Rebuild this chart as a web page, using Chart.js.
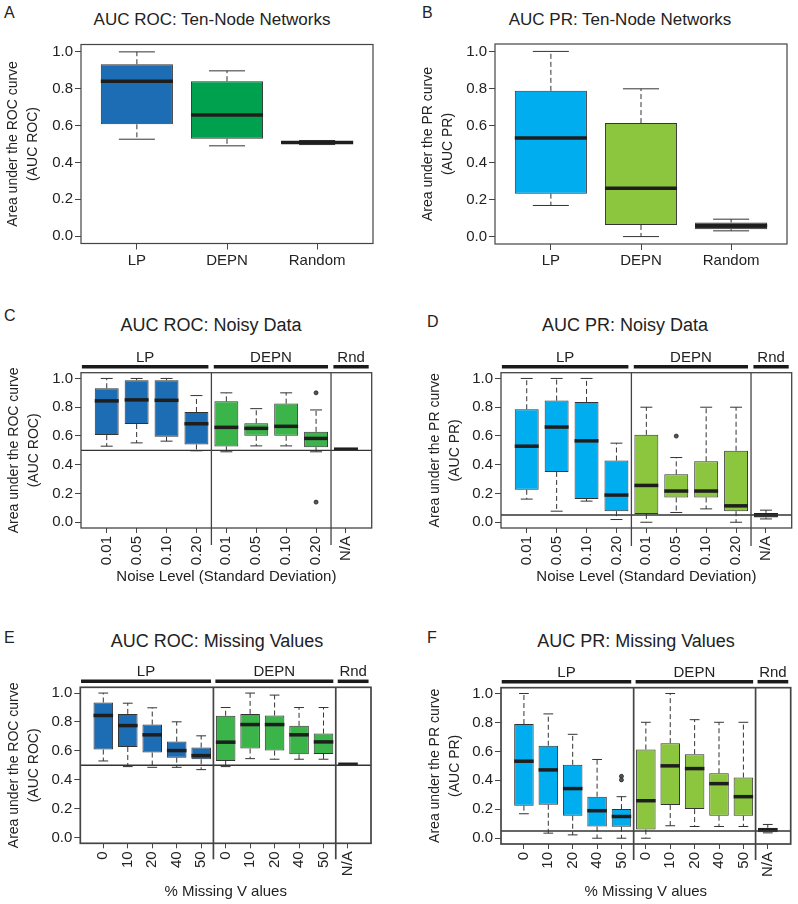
<!DOCTYPE html>
<html><head><meta charset="utf-8">
<script src="https://cdn.jsdelivr.net/npm/chart.js@4.4.0/dist/chart.umd.min.js"></script>
<style>
body{margin:0;background:#fff;width:798px;height:904px;position:relative;overflow:hidden;font-family:"Liberation Sans",Arial,sans-serif;color:#222}
canvas{position:absolute}
.t{position:absolute;white-space:nowrap;line-height:1;color:#222}
.title{transform:translateX(-50%)}
</style></head><body>
<div class="t" style="left:4px;top:4.5px;font-size:16px">A</div>
<div class="t" style="left:422px;top:4.5px;font-size:16px">B</div>
<div class="t" style="left:4px;top:307.5px;font-size:16px">C</div>
<div class="t" style="left:427px;top:313.5px;font-size:16px">D</div>
<div class="t" style="left:4px;top:629.5px;font-size:16px">E</div>
<div class="t" style="left:427px;top:629.5px;font-size:16px">F</div>
<div class="t title" style="left:212px;top:10.6px;font-size:17px">AUC ROC: Ten-Node Networks</div>
<div class="t title" style="left:620px;top:10.6px;font-size:17px">AUC PR: Ten-Node Networks</div>
<div class="t title" style="left:211px;top:315.8px;font-size:18px">AUC ROC: Noisy Data</div>
<div class="t title" style="left:625px;top:316.4px;font-size:18px">AUC PR: Noisy Data</div>
<div class="t title" style="left:217px;top:631.5px;font-size:18px">AUC ROC: Missing Values</div>
<div class="t title" style="left:636px;top:631.5px;font-size:18px">AUC PR: Missing Values</div>

<canvas id="cA" width="400" height="300" style="left:0;top:0;width:400px;height:300px"></canvas>
<canvas id="cB" width="398" height="300" style="left:400px;top:0;width:398px;height:300px"></canvas>
<canvas id="cC" width="400" height="300" style="left:0;top:300px;width:400px;height:300px"></canvas>
<canvas id="cD" width="398" height="300" style="left:400px;top:300px;width:398px;height:300px"></canvas>
<canvas id="cE" width="400" height="304" style="left:0;top:600px;width:400px;height:304px"></canvas>
<canvas id="cF" width="398" height="304" style="left:400px;top:600px;width:398px;height:304px"></canvas>
<script>
// ---------------- DATA ----------------
const yTickValues = [0, 0.2, 0.4, 0.6, 0.8, 1.0];

// A: AUC ROC, ten-node networks
const tenNodeCats = ['LP', 'DEPN', 'Random'];
const rocTenLow  = [0.526, 0.490, 0.497];
const rocTenQ1   = [0.607, 0.528, 0.501];
const rocTenMed  = [0.841, 0.658, 0.508];
const rocTenQ3   = [0.933, 0.841, 0.516];
const rocTenHigh = [1.000, 0.897, 0.519];

// B: AUC PR, ten-node networks
const prTenLow  = [0.168, 0.000, 0.031];
const prTenQ1   = [0.232, 0.063, 0.040];
const prTenMed  = [0.532, 0.261, 0.058];
const prTenQ3   = [0.787, 0.613, 0.076];
const prTenHigh = [1.000, 0.798, 0.094];

// C/D: noisy data
const noiseCats = ['0.01', '0.05', '0.10', '0.20', '0.01', '0.05', '0.10', '0.20', 'N/A'];
const methodGroups = ['LP', 'DEPN', 'Rnd'];
const noiseGroupSizes = [4, 4, 1];

const rocNoiseLow  = [0.529, 0.552, 0.564, 0.497, 0.490, 0.531, 0.531, 0.490, 0.503];
const rocNoiseQ1   = [0.606, 0.683, 0.594, 0.541, 0.527, 0.601, 0.601, 0.522, 0.505];
const rocNoiseMed  = [0.844, 0.851, 0.848, 0.685, 0.660, 0.653, 0.667, 0.583, 0.508];
const rocNoiseQ3   = [0.932, 0.988, 0.988, 0.767, 0.841, 0.688, 0.825, 0.629, 0.511];
const rocNoiseHigh = [1.000, 1.000, 1.000, 0.881, 0.900, 0.790, 0.900, 0.781, 0.513];
const rocNoiseOutliers = [[8, 0.900], [8, 0.140]];

const prNoiseLow  = [0.161, 0.077, 0.147, 0.019, 0.000, 0.068, 0.093, 0.000, 0.023];
const prNoiseQ1   = [0.226, 0.350, 0.161, 0.077, 0.058, 0.172, 0.172, 0.077, 0.033];
const prNoiseMed  = [0.529, 0.662, 0.566, 0.189, 0.256, 0.217, 0.217, 0.114, 0.051];
const prNoiseQ3   = [0.786, 0.846, 0.837, 0.429, 0.608, 0.333, 0.424, 0.497, 0.065];
const prNoiseHigh = [1.000, 1.000, 1.000, 0.550, 0.800, 0.450, 0.800, 0.800, 0.084];
const prNoiseOutliers = [[6, 0.599]];

// E/F: missing values
const missingCats = ['0', '10', '20', '40', '50', '0', '10', '20', '40', '50', 'N/A'];
const missingGroupSizes = [5, 5, 1];

const rocMissLow  = [0.530, 0.491, 0.486, 0.486, 0.470, 0.491, 0.546, 0.542, 0.542, 0.542, 0.503];
const rocMissQ1   = [0.609, 0.627, 0.588, 0.553, 0.542, 0.530, 0.616, 0.602, 0.576, 0.579, 0.504];
const rocMissMed  = [0.845, 0.775, 0.711, 0.602, 0.567, 0.660, 0.782, 0.782, 0.711, 0.662, 0.507];
const rocMissQ3   = [0.935, 0.856, 0.782, 0.664, 0.623, 0.843, 0.856, 0.845, 0.773, 0.720, 0.510];
const rocMissHigh = [1.000, 0.930, 0.898, 0.801, 0.704, 0.900, 1.000, 0.986, 0.900, 0.900, 0.512];

const prMissLow  = [0.169, 0.035, 0.023, 0.000, 0.000, 0.000, 0.086, 0.081, 0.081, 0.081, 0.037];
const prMissQ1   = [0.225, 0.231, 0.155, 0.081, 0.079, 0.060, 0.229, 0.201, 0.155, 0.155, 0.042];
const prMissMed  = [0.532, 0.472, 0.343, 0.190, 0.150, 0.259, 0.500, 0.481, 0.377, 0.287, 0.058];
const prMissQ3   = [0.789, 0.639, 0.507, 0.287, 0.201, 0.613, 0.657, 0.581, 0.449, 0.419, 0.072];
const prMissHigh = [1.000, 0.859, 0.718, 0.544, 0.287, 0.801, 1.000, 0.819, 0.801, 0.801, 0.095];
const prMissOutliers = [[5, 0.428], [5, 0.403]];

// ---------------- STYLE ----------------
const FONT = '"Liberation Sans", Arial, sans-serif';
Chart.defaults.font.family = FONT;
const ROC_LP = '#1d6db5', ROC_DEPN_A = '#00a14e', ROC_DEPN = '#3bb44a';
const PR_LP = '#00adee', PR_DEPN = '#8cc63e';

function groupColors(sizes, cols) {
  const out = [];
  sizes.forEach((s, g) => { for (let k = 0; k < s; k++) out.push(cols[g]); });
  return out;
}

function makeExtras(spec) {
  return {
    id: 'extras' + spec.id,
    afterDatasetsDraw(chart) {
      const {ctx, chartArea: ca} = chart;
      const xs = chart.scales.x, ys = chart.scales.y;
      const bars = chart.getDatasetMeta(0).data;
      const seg = (x1, y1, x2, y2) => { ctx.beginPath(); ctx.moveTo(x1, y1); ctx.lineTo(x2, y2); ctx.stroke(); };
      ctx.save();
      ctx.lineCap = 'butt';
      bars.forEach((bar, i) => {
        const xc = bar.x, hw = bar.width / 2, cw = hw / 2;
        const yLo = ys.getPixelForValue(spec.low[i]), yHi = ys.getPixelForValue(spec.high[i]);
        const yQ1 = ys.getPixelForValue(spec.q1[i]), yQ3 = ys.getPixelForValue(spec.q3[i]);
        const yMed = ys.getPixelForValue(spec.med[i]);
        ctx.strokeStyle = '#333'; ctx.lineWidth = 1;
        ctx.setLineDash([5, 3]);
        if (yHi < yQ3 - 1) seg(xc, yQ3, xc, yHi);
        if (yLo > yQ1 + 1) seg(xc, yQ1, xc, yLo);
        ctx.setLineDash([]);
        seg(xc - cw, yHi, xc + cw, yHi);
        seg(xc - cw, yLo, xc + cw, yLo);
        ctx.strokeStyle = '#1e1e1e'; ctx.lineWidth = 3.5;
        seg(xc - hw, yMed, xc + hw, yMed);
      });
      if (spec.ref != null) {
        const yr = ys.getPixelForValue(spec.ref);
        ctx.strokeStyle = '#333'; ctx.lineWidth = 1.4;
        seg(ca.left, yr, ca.right, yr);
      }
      ctx.strokeStyle = '#444'; ctx.lineWidth = spec.frameW;
      ctx.strokeRect(ca.left, ca.top, ca.right - ca.left, ca.bottom - ca.top);
      if (spec.groups) {
        const bounds = [];
        let cum = 0;
        spec.groupSizes.forEach(s => { cum += s; bounds.push(cum + 0.5); });
        ctx.strokeStyle = '#444'; ctx.lineWidth = spec.frameW;
        bounds.slice(0, -1).forEach(b => {
          const px = xs.getPixelForValue(b);
          seg(px, ca.top, px, ca.bottom + spec.sepExt);
        });
        const barY = ca.top - 6;
        ctx.font = '15px ' + FONT;
        ctx.textAlign = 'center'; ctx.textBaseline = 'alphabetic';
        ctx.fillStyle = '#222';
        spec.groups.forEach((g, k) => {
          const from = k === 0 ? xs.min + 0.03 : bounds[k - 1] + 0.08;
          const to = k === spec.groups.length - 1 ? xs.max - 0.1 : bounds[k] - 0.1;
          const p1 = xs.getPixelForValue(from), p2 = xs.getPixelForValue(to);
          ctx.strokeStyle = '#1a1a1a'; ctx.lineWidth = 3.5;
          seg(p1, barY, p2, barY);
          ctx.fillText(g, (p1 + p2) / 2, barY - 5);
        });
      }
      ctx.restore();
    }
  };
}

function makePanel(spec) {
  const canvas = document.getElementById(spec.id);
  const W = canvas.width, H = canvas.height;
  const pl = spec.plot;
  const n = spec.cats.length;
  const pad = 0.04 * n;
  const boxData = spec.cats.map((c, i) => ({x: i + 1, y: [spec.q1[i], spec.q3[i]]}));
  const outData = (spec.outliers || []).map(o => ({x: o[0], y: o[1]}));
  const rotated = spec.rot === 90;
  return new Chart(canvas, {
    type: 'bar',
    data: {
      datasets: [
        {data: boxData, backgroundColor: spec.fills, borderColor: '#333', borderWidth: 1,
         borderSkipped: false, categoryPercentage: 0.8, barPercentage: 1.0},
        {type: 'scatter', data: outData, pointRadius: 2, pointBackgroundColor: '#555',
         pointBorderColor: '#222', pointBorderWidth: 0.8}
      ]
    },
    options: {
      responsive: false, animation: false, devicePixelRatio: 1,
      layout: {padding: {left: 0, top: pl.t, right: W - pl.r, bottom: 0}},
      plugins: {legend: {display: false}, tooltip: {enabled: false}},
      scales: {
        x: {
          type: 'linear', min: 0.5 - pad, max: n + 0.5 + pad, bounds: 'data', offset: false,
          afterBuildTicks: s => { s.ticks = spec.cats.map((c, i) => ({value: i + 1})); },
          afterFit: s => { s.height = H - pl.b; },
          grid: {display: true, offset: false, drawOnChartArea: false, drawTicks: true,
                 tickLength: rotated ? 5 : 6, color: '#444', lineWidth: 1},
          border: {display: false},
          ticks: {autoSkip: false, maxRotation: spec.rot, minRotation: spec.rot,
                  padding: rotated ? 3 : 2, color: '#222',
                  font: {size: 15}, callback: (v, i) => spec.cats[i]},
          title: spec.xTitle ? {display: true, text: spec.xTitle, color: '#222',
                  font: {size: 15, lineHeight: 1.2}, padding: {top: 0, bottom: H - spec.xTitleY - 9}}
                 : {display: false}
        },
        y: {
          type: 'linear', min: -0.04, max: 1.04, bounds: 'data',
          afterBuildTicks: s => { s.ticks = yTickValues.map(v => ({value: v})); },
          afterFit: s => { s.width = pl.l; },
          grid: {display: true, drawOnChartArea: false, drawTicks: true, tickLength: 6, color: '#444', lineWidth: 1},
          border: {display: false},
          ticks: {padding: 2, color: '#222', font: {size: 15}, callback: v => v.toFixed(1)},
          title: {display: true, text: spec.yTitle, color: '#222',
                  font: {size: 14, lineHeight: 20 / 14}, padding: {top: spec.yTitleX - 10, bottom: 0}}
        }
      }
    },
    plugins: [makeExtras(spec)]
  });
}

const rocTitle = ['Area under the ROC curve', '(AUC ROC)'];
const prTitle = ['Area under the PR curve', '(AUC PR)'];

makePanel({id: 'cA', cats: tenNodeCats, low: rocTenLow, q1: rocTenQ1, med: rocTenMed, q3: rocTenQ3, high: rocTenHigh,
  fills: [ROC_LP, ROC_DEPN_A, '#2a2a2a'], plot: {l: 81, t: 44.5, r: 373, b: 243.5}, yTitle: rocTitle, yTitleX: 13,
  rot: 0, frameW: 1.2, ref: null});
makePanel({id: 'cB', cats: tenNodeCats, low: prTenLow, q1: prTenQ1, med: prTenMed, q3: prTenQ3, high: prTenHigh,
  fills: [PR_LP, PR_DEPN, '#333333'], plot: {l: 95, t: 44, r: 387, b: 244}, yTitle: prTitle, yTitleX: 28.3,
  rot: 0, frameW: 1.2, ref: null});
makePanel({id: 'cC', cats: noiseCats, low: rocNoiseLow, q1: rocNoiseQ1, med: rocNoiseMed, q3: rocNoiseQ3, high: rocNoiseHigh,
  outliers: rocNoiseOutliers, fills: groupColors(noiseGroupSizes, [ROC_LP, ROC_DEPN, '#222222']),
  groups: methodGroups, groupSizes: noiseGroupSizes, sepExt: 17,
  plot: {l: 81, t: 72.7, r: 371.7, b: 228}, yTitle: rocTitle, yTitleX: 14,
  xTitle: 'Noise Level (Standard Deviation)', xTitleY: 276.7, rot: 90, frameW: 1.3, ref: 0.5});
makePanel({id: 'cD', cats: noiseCats, low: prNoiseLow, q1: prNoiseQ1, med: prNoiseMed, q3: prNoiseQ3, high: prNoiseHigh,
  outliers: prNoiseOutliers, fills: groupColors(noiseGroupSizes, [PR_LP, PR_DEPN, '#3a3a3a']),
  groups: methodGroups, groupSizes: noiseGroupSizes, sepExt: 18,
  plot: {l: 101, t: 72.7, r: 391.7, b: 228}, yTitle: prTitle, yTitleX: 35,
  xTitle: 'Noise Level (Standard Deviation)', xTitleY: 276.7, rot: 90, frameW: 1.3, ref: 0.05});
makePanel({id: 'cE', cats: missingCats, low: rocMissLow, q1: rocMissQ1, med: rocMissMed, q3: rocMissQ3, high: rocMissHigh,
  fills: groupColors(missingGroupSizes, [ROC_LP, ROC_DEPN, '#222222']),
  groups: methodGroups, groupSizes: missingGroupSizes, sepExt: 16,
  plot: {l: 80.3, t: 87.3, r: 371, b: 243.3}, yTitle: rocTitle, yTitleX: 14,
  xTitle: '% Missing V alues', xTitleY: 291.7, rot: 90, frameW: 1.7, ref: 0.5});
makePanel({id: 'cF', cats: missingCats, low: prMissLow, q1: prMissQ1, med: prMissMed, q3: prMissQ3, high: prMissHigh,
  outliers: prMissOutliers, fills: groupColors(missingGroupSizes, [PR_LP, PR_DEPN, '#8a8060']),
  groups: methodGroups, groupSizes: missingGroupSizes, sepExt: 16,
  plot: {l: 101, t: 87.7, r: 390.7, b: 244}, yTitle: prTitle, yTitleX: 35,
  xTitle: '% Missing V alues', xTitleY: 291.7, rot: 90, frameW: 1.7, ref: 0.05});
</script>
</body></html>
